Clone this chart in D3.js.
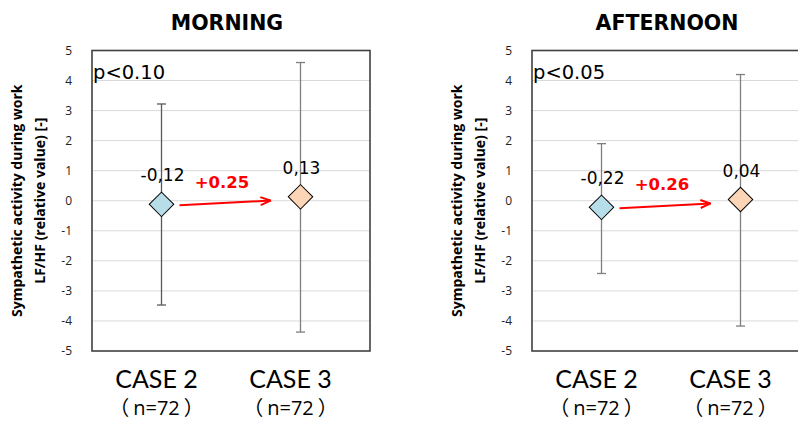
<!DOCTYPE html>
<html>
<head>
<meta charset="utf-8">
<script src="https://cdn.jsdelivr.net/npm/d3@7"></script>
<style>
html,body{margin:0;padding:0;background:#fff;overflow:hidden;}
svg{display:block;}
</style>
</head>
<body>
<svg id="chart" width="798" height="421"></svg>
<script>
// ---- data ----
const categories = ["CASE 2", "CASE 3"];
const sampleLabels = ["（n=72）", "（n=72）"];
const panelTitles = ["MORNING", "AFTERNOON"];
const pLabels = ["p<0.10", "p<0.05"];
const morningMeans = [-0.12, 0.13];
const morningUpper = [3.22, 4.60];
const morningLower = [-3.47, -4.37];
const afternoonMeans = [-0.22, 0.04];
const afternoonUpper = [1.90, 4.20];
const afternoonLower = [-2.42, -4.17];
const diffLabels = ["+0.25", "+0.26"];
const yTicks = [-5, -4, -3, -2, -1, 0, 1, 2, 3, 4, 5];
const yTitleLines = ["Sympathetic activity during work", "LF/HF (relative value) [-]"];

const panels = [
  {title: panelTitles[0], p: pLabels[0], means: morningMeans, upper: morningUpper, lower: morningLower, diff: diffLabels[0], left: 92, barColors: ["#595959", "#7f7f7f"]},
  {title: panelTitles[1], p: pLabels[1], means: afternoonMeans, upper: afternoonUpper, lower: afternoonLower, diff: diffLabels[1], left: 532, barColors: ["#7f7f7f", "#7f7f7f"]}
];
const fills = ["#b7dde8", "#fbd5b5"];
const catShift = [-5, -10];

const svg = d3.select("#chart");
const plotW = 278, plotTop = 50.5, plotBottom = 351;
const fmt = v => d3.format(".2f")(v).replace(".", ",").replace("−", "-");

const defs = svg.append("defs");
defs.append("marker").attr("id", "arrow").attr("viewBox", "0 0 12 10")
  .attr("refX", 11).attr("refY", 5).attr("markerWidth", 12).attr("markerHeight", 10)
  .attr("markerUnits", "userSpaceOnUse").attr("orient", "auto")
  .append("path").attr("d", "M1,1 L11,5 L1,9").attr("fill", "none").attr("stroke", "#ff0000").attr("stroke-width", 2);

panels.forEach(pn => {
  const g = svg.append("g");
  const x = d3.scaleBand().domain(categories).range([pn.left, pn.left + plotW]);
  const y = d3.scaleLinear().domain([-5, 5]).range([plotBottom, plotTop]);

  // gridlines
  g.selectAll(".grid").data(yTicks.filter(t => t > -5 && t < 5)).join("line")
    .attr("x1", pn.left).attr("x2", pn.left + plotW)
    .attr("y1", d => y(d)).attr("y2", d => y(d))
    .attr("stroke", "#d9d9d9").attr("stroke-width", 1);

  // y axis labels
  const ax = d3.axisLeft(y).tickValues(yTicks).tickSize(0).tickPadding(20).tickFormat(d3.format("d"));
  const axg = g.append("g").attr("transform", `translate(${pn.left},0)`).call(ax);
  axg.select(".domain").remove();
  axg.selectAll("text").attr("font-family", "Open Sans").attr("font-size", 12).attr("fill", "#222")
    .text(d => d < 0 ? "-" + Math.abs(d) : d);

  // border
  g.append("rect").attr("x", pn.left).attr("y", plotTop).attr("width", plotW).attr("height", plotBottom - plotTop)
    .attr("fill", "none").attr("stroke", "#404040").attr("stroke-width", 1.6);

  // title
  g.append("text").attr("x", pn.left + plotW / 2 - 4).attr("y", 30).attr("text-anchor", "middle")
    .attr("font-family", "DejaVu Sans").attr("font-weight", "bold").attr("font-size", 20.5).text(pn.title);

  // y title
  const yt = g.append("text").attr("transform", `translate(${pn.left - 70},${(plotTop + plotBottom) / 2}) rotate(-90)`)
    .attr("text-anchor", "middle").attr("font-family", "Open Sans").attr("font-weight", "bold").attr("font-size", 14);
  yTitleLines.forEach((t, i) => yt.append("tspan").attr("x", 0).attr("y", i * 23).text(t));

  // p label
  g.append("text").attr("x", pn.left + 1).attr("y", 79).attr("font-family", "DejaVu Sans")
    .attr("font-size", 19.5).attr("fill", "#000").text(pn.p);

  const cx = c => x(c) + x.bandwidth() / 2;

  // error bars
  categories.forEach((c, i) => {
    const col = pn.barColors[i];
    g.append("line").attr("x1", cx(c)).attr("x2", cx(c)).attr("y1", y(pn.upper[i])).attr("y2", y(pn.lower[i]))
      .attr("stroke", col).attr("stroke-width", 1.3);
    [pn.upper[i], pn.lower[i]].forEach(v => {
      g.append("line").attr("x1", cx(c) - 4.5).attr("x2", cx(c) + 4.5).attr("y1", y(v)).attr("y2", y(v))
        .attr("stroke", col).attr("stroke-width", 1.3);
    });
  });

  // arrow
  const mid = (pn.means[0] + pn.means[1]) / 2;
  g.append("line").attr("x1", cx(categories[0]) + 18).attr("y1", y(pn.means[0]) + 1)
    .attr("x2", cx(categories[1]) - 30).attr("y2", y(mid))
    .attr("stroke", "#ff0000").attr("stroke-width", 2).attr("marker-end", "url(#arrow)");
  g.append("text").attr("x", (cx(categories[0]) + cx(categories[1])) / 2 - 9).attr("y", y(mid) - 13)
    .attr("text-anchor", "middle").attr("font-family", "DejaVu Sans").attr("font-weight", "bold")
    .attr("font-size", 16.5).attr("fill", "#ff0000").text(pn.diff);

  // diamonds
  const diamond = d3.symbol().type(d3.symbolSquare).size(300);
  categories.forEach((c, i) => {
    g.append("path").attr("d", diamond()).attr("transform", `translate(${cx(c)},${y(pn.means[i])}) rotate(45)`)
      .attr("fill", fills[i]).attr("stroke", "#000").attr("stroke-width", 1);
    g.append("text").attr("x", cx(c) + 1).attr("y", y(pn.means[i]) - 23).attr("text-anchor", "middle")
      .attr("font-family", "DejaVu Sans").attr("font-size", 17).attr("fill", "#000").text(fmt(pn.means[i]));
  });

  // category labels
  categories.forEach((c, i) => {
    g.append("text").attr("x", cx(c) + catShift[i]).attr("y", 388).attr("text-anchor", "middle")
      .attr("font-family", "Lato").attr("font-size", 25).attr("fill", "#000").text(c);
    const lab = sampleLabels[i];
    const st = g.append("text").attr("x", cx(c) + catShift[i]).attr("y", 415).attr("text-anchor", "middle")
      .attr("font-family", "Noto Sans CJK JP").attr("font-size", 20).attr("fill", "#000");
    st.append("tspan").text(lab.slice(0, 1));
    st.append("tspan").attr("dx", 4).attr("font-family", "Open Sans").text(lab.slice(1, -1));
    st.append("tspan").attr("dx", 4).text(lab.slice(-1));
  });
});
</script>
</body>
</html>
